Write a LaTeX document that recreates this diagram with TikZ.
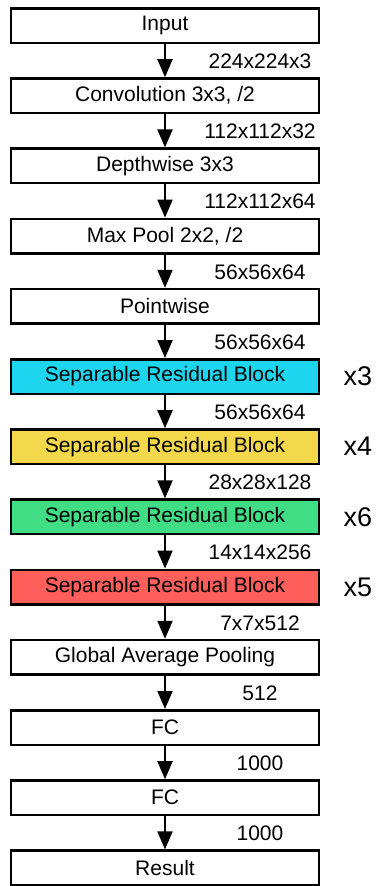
\documentclass[tikz,border=0pt]{standalone}
\usepackage{fontspec}
\setmainfont{Liberation Sans}
\usetikzlibrary{arrows.meta}
\definecolor{blkcyan}{HTML}{1ED5F0}
\definecolor{blkyellow}{HTML}{F4D84B}
\definecolor{blkgreen}{HTML}{40DD85}
\definecolor{blkred}{HTML}{FF5F5A}
\begin{document}
\begin{tikzpicture}[x=1pt,y=-1pt,
  layer/.style={draw=black, line width=2.5pt, fill=white, minimum width=308pt,
    minimum height=34.5pt, inner sep=0pt, font=\fontsize{21}{25}\selectfont},
  dim/.style={font=\fontsize{21}{25}\selectfont, inner sep=0pt},
  rep/.style={font=\fontsize{27}{32}\selectfont, inner sep=0pt},
  flow/.style={-{Triangle[width=15pt,length=18pt]}, line width=2pt}]
\useasboundingbox (0,0) rectangle (376,886);

% layer boxes, one every 70.2pt
\node[layer] (in)   at (165, 25.5)  {Input};
\node[layer] (conv) at (165, 95.7)  {Convolution 3x3, /2};
\node[layer] (dw)   at (165,165.9)  {Depthwise 3x3};
\node[layer] (mp)   at (165,236.1)  {Max Pool 2x2, /2};
\node[layer] (pw)   at (165,306.3)  {Pointwise};
\node[layer, fill=blkcyan]   (b1) at (165,376.5) {Separable Residual Block};
\node[layer, fill=blkyellow] (b2) at (165,446.7) {Separable Residual Block};
\node[layer, fill=blkgreen]  (b3) at (165,516.9) {Separable Residual Block};
\node[layer, fill=blkred]    (b4) at (165,587.1) {Separable Residual Block};
\node[layer] (gap)  at (165,657.3)  {Global Average Pooling};
\node[layer] (fc1)  at (165,727.5)  {FC};
\node[layer] (fc2)  at (165,797.7)  {FC};
\node[layer] (res)  at (165,867.9)  {Result};

% repetition counts of the residual stages
\node[rep] (r1) at (358,376.5) {x3};
\node[rep] (r2) at (358,446.7) {x4};
\node[rep] (r3) at (358,516.9) {x6};
\node[rep] (r4) at (358,587.1) {x5};

% connectors with tensor shapes
\draw[flow] (in)   -- (conv);
\draw[flow] (conv) -- (dw);
\draw[flow] (dw)   -- (mp);
\draw[flow] (mp)   -- (pw);
\draw[flow] (pw)   -- (b1);
\draw[flow] (b1)   -- (b2);
\draw[flow] (b2)   -- (b3);
\draw[flow] (b3)   -- (b4);
\draw[flow] (b4)   -- (gap);
\draw[flow] (gap)  -- (fc1);
\draw[flow] (fc1)  -- (fc2);
\draw[flow] (fc2)  -- (res);

\node[dim] (d1)  at (260, 61.2) {224x224x3};
\node[dim] (d2)  at (260,131.4) {112x112x32};
\node[dim] (d3)  at (260,201.6) {112x112x64};
\node[dim] (d4)  at (260,271.8) {56x56x64};
\node[dim] (d5)  at (260,342.0) {56x56x64};
\node[dim] (d6)  at (260,412.2) {56x56x64};
\node[dim] (d7)  at (260,482.4) {28x28x128};
\node[dim] (d8)  at (260,552.6) {14x14x256};
\node[dim] (d9)  at (260,622.8) {7x7x512};
\node[dim] (d10) at (260,693.0) {512};
\node[dim] (d11) at (260,763.2) {1000};
\node[dim] (d12) at (260,833.4) {1000};
\end{tikzpicture}
\end{document}
